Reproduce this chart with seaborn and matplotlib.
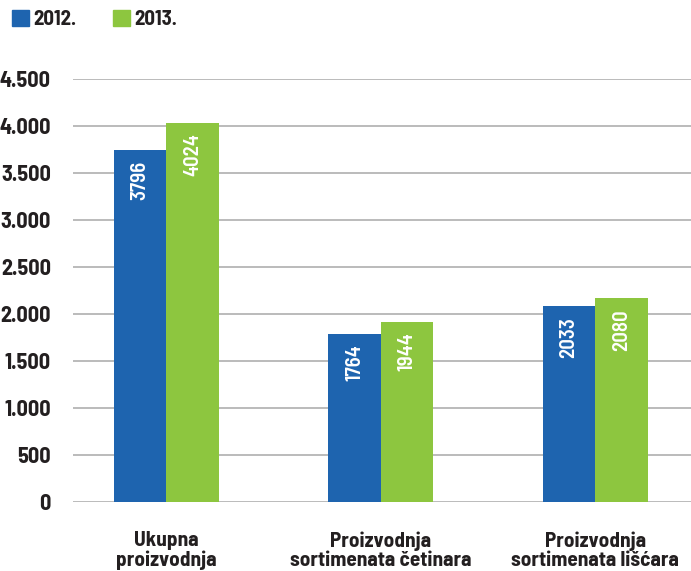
import numpy as np
import pandas as pd
import seaborn as sns
import matplotlib.pyplot as plt
from matplotlib.ticker import FuncFormatter

# Data
categories = ["Ukupna\nproizvodnja",
              "Proizvodnja\nsortimenata četinara",
              "Proizvodnja\nsortimenata lišćara"]
years = ["2012.", "2013."]
# bar heights as drawn in the picture
heights_2012 = [3745, 1785, 2080]
heights_2013 = [4035, 1920, 2165]
# values printed on the bars
labels_2012 = [3796, 1764, 2033]
labels_2013 = [4024, 1944, 2080]
yticks = [0, 500, 1000, 1500, 2000, 2500, 3000, 3500, 4000, 4500]

blue = "#1E64AF"
green = "#8DC63F"
dark = "#231F20"

df = pd.DataFrame({
    "kategorija": categories * 2,
    "godina": [years[0]] * 3 + [years[1]] * 3,
    "vrijednost": heights_2012 + heights_2013,
})

sns.set_style("white")
plt.rcParams['font.family'] = ['Barlow Semi Condensed', 'DejaVu Sans']

fig = plt.figure(figsize=(6.91, 5.71), dpi=100)
ax = fig.add_axes([73 / 691, 1 - 502 / 571, 1 - 73 / 691, (502 - 79) / 571])

sns.barplot(data=df, x="kategorija", y="vrijednost", hue="godina",
            palette=[blue, green], width=0.49, gap=0, saturation=1,
            edgecolor="none", linewidth=0, ax=ax, zorder=3, legend=False)

# value labels inside bars
for cont, labs in zip(ax.containers, [labels_2012, labels_2013]):
    for bar, lab in zip(cont, labs):
        ax.annotate(str(lab), (bar.get_x() + bar.get_width() / 2, bar.get_height()),
                    xytext=(0, -7.5), textcoords="offset points",
                    rotation=90, ha="center", va="top", color="white",
                    fontsize=15, fontweight=600, zorder=4)

ax.set_ylim(0, 4500)
ax.set_xlim(-0.435, 2.447)
ax.set_yticks(yticks)
ax.yaxis.set_major_formatter(FuncFormatter(lambda v, p: f"{int(v):,}".replace(",", ".")))
ax.grid(axis="y", color="#B5B5B5", linewidth=1.3, zorder=0)
ax.set_axisbelow(True)
for s in ax.spines.values():
    s.set_visible(False)
ax.tick_params(axis="y", length=0, pad=16, labelsize=16, labelcolor=dark)
ax.tick_params(axis="x", length=0, pad=21, labelsize=15.3, labelcolor=dark)
for t in ax.get_yticklabels() + ax.get_xticklabels():
    t.set_fontweight("bold")
for t in ax.get_xticklabels():
    t.set_linespacing(1.0)
ax.set_xlabel("")
ax.set_ylabel("")

# legend at top left
handles = [plt.Rectangle((0, 0), 1, 1, color=c) for c in [blue, green]]
leg = fig.legend(handles, years, loc="upper left", bbox_to_anchor=(12 / 691, 1 - 10 / 571),
                 ncol=2, frameon=False, borderpad=0, borderaxespad=0,
                 handlelength=0.82, handleheight=0.82,
                 handletextpad=0.2, columnspacing=1.75,
                 prop={"weight": "bold", "size": 15})
for t in leg.get_texts():
    t.set_color(dark)

plt.savefig("out.png", dpi=100)
